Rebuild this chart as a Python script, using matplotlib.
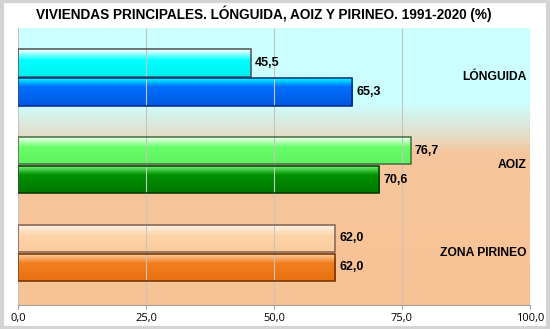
import matplotlib.pyplot as plt
import numpy as np
from matplotlib.colors import to_rgb
from matplotlib.patches import Rectangle

categorias = ['LÓNGUIDA', 'AOIZ', 'ZONA PIRINEO']
v1991 = [45.5, 76.7, 62.0]
v2020 = [65.3, 70.6, 62.0]
ticks = [0, 25, 50, 75, 100]

# colores: (paradas del degradado, borde) para cada barra
col_1991 = [
    ([(0, '#ffffff'), (0.4, '#00ffff'), (1, '#00f0f0')], '#505050'),
    ([(0, '#ffffff'), (0.4, '#66ff66'), (1, '#60f060')], '#407040'),
    ([(0, '#fff4ea'), (0.4, '#fdd4a8'), (1, '#fbcc9c')], '#806050'),
]
col_2020 = [
    ([(0, '#00ffff'), (0.3, '#0070ff'), (1, '#0058e0')], '#002a80'),
    ([(0, '#80ff80'), (0.35, '#009000'), (1, '#007800')], '#003800'),
    ([(0, '#ffd8b0'), (0.35, '#f28020'), (1, '#e87010')], '#703000'),
]


def degradado(paradas, n=60):
    t = np.linspace(0, 1, n)
    pos = [p for p, c in paradas]
    rgb = np.array([to_rgb(c) for p, c in paradas])
    img = np.stack([np.interp(t, pos, rgb[:, k]) for k in range(3)], axis=1)
    return img[:, None, :]


fig = plt.figure(figsize=(5.5, 3.29), dpi=100)
fig.patches.append(Rectangle((0.003, 0.004), 0.994, 0.992, transform=fig.transFigure,
                             fill=False, edgecolor='#d4d4d4', linewidth=3))
ax = fig.add_axes([18 / 550, 24 / 329, 512 / 550, 277 / 329])

ylim = (2.593, -0.564)
ax.set_xlim(0, 100)
ax.set_ylim(*ylim)

# fondo con degradado celeste -> salmon
fondo = degradado([(0, '#ccffff'), (0.27, '#ccffff'), (0.39, '#e4dcc6'),
                   (0.45, '#f6c69c'), (1, '#f8c294')], 200)
ax.imshow(fondo, extent=[0, 100, ylim[0], ylim[1]], aspect='auto', zorder=0)

h = 0.31
for i in range(len(categorias)):
    for val, off, (paradas, borde) in [(v1991[i], -0.165, col_1991[i]),
                                       (v2020[i], 0.165, col_2020[i])]:
        y = i + off
        b = ax.barh(y, val, height=h, color='none', edgecolor=borde, linewidth=1.1, zorder=3)[0]
        im = ax.imshow(degradado(paradas), extent=[0, val, y + h / 2, y - h / 2],
                       aspect='auto', zorder=2)
        im.set_clip_path(b)
        ax.text(val + 0.8, y, f'{val:.1f}'.replace('.', ','), va='center', ha='left',
                fontsize=9, fontweight='bold', family='Liberation Sans', zorder=4)
    ax.text(99.4, i, categorias[i], va='center', ha='right', fontsize=8.7,
            fontweight='bold', family='Liberation Sans', zorder=4)

ax.set_xticks(ticks)
ax.set_xticklabels([f'{t:.1f}'.replace('.', ',') for t in ticks], fontsize=8,
                   family='Open Sans')
ax.set_yticks([])
ax.grid(axis='x', color='#c4c4c4', linewidth=0.8, zorder=1)
ax.set_axisbelow(False)
for s in ['top', 'left', 'right']:
    ax.spines[s].set_visible(False)
ax.spines['bottom'].set_color('#a0a0a0')
ax.tick_params(axis='x', length=3, color='#a0a0a0', pad=3)

fig.text(264 / 550, 1 - 14 / 329, 'VIVIENDAS PRINCIPALES. LÓNGUIDA, AOIZ Y PIRINEO. 1991-2020 (%)',
         ha='center', va='center', fontsize=9.8, fontweight='bold', family='Liberation Sans')

fig.savefig('out.png', dpi=100)
